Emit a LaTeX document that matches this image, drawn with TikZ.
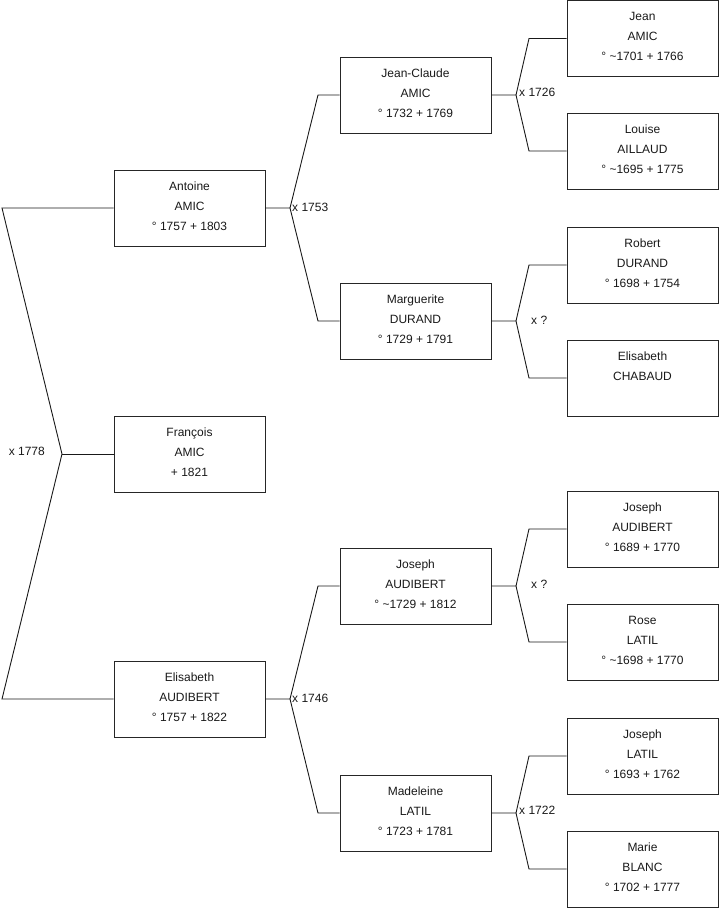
\documentclass[tikz,border=0pt]{standalone}
\usepackage{fontspec}
\setmainfont{Liberation Sans}
\newcommand\ptxt[1]{\raisebox{0pt}[\height][\dimexpr\depth+4pt\relax]{\begin{tabular}{@{}c@{}}#1\end{tabular}}}
\begin{document}
\begin{tikzpicture}[x=1pt,y=-1pt,
  person/.style={draw=black!85,line width=0.9pt,minimum width=151pt,minimum height=76pt,
    inner sep=0pt,align=center,font=\fontsize{12}{20}\selectfont,text=black!90},
  conn/.style={line width=0.9pt,black!90},
  lab/.style={font=\fontsize{12}{14}\selectfont,inner sep=0pt,text=black!90}]
\useasboundingbox (0,0) rectangle (719,908);
% column 1
\node[person] (antoine) at (189.5,208) {\ptxt{Antoine\\AMIC\\° 1757 + 1803}};
\node[person] (francois) at (189.5,454) {\ptxt{François\\AMIC\\+ 1821}};
\node[person] (elisabeth) at (189.5,699) {\ptxt{Elisabeth\\AUDIBERT\\° 1757 + 1822}};
% column 2
\node[person] (jc) at (415.5,95) {\ptxt{Jean-Claude\\AMIC\\° 1732 + 1769}};
\node[person] (marg) at (415.5,321) {\ptxt{Marguerite\\DURAND\\° 1729 + 1791}};
\node[person] (josepha) at (415.5,586) {\ptxt{Joseph\\AUDIBERT\\° \textasciitilde1729 + 1812}};
\node[person] (madeleine) at (415.5,813) {\ptxt{Madeleine\\LATIL\\° 1723 + 1781}};
% column 3
\node[person] (jean) at (642.5,38.5) {\ptxt{Jean\\AMIC\\° \textasciitilde1701 + 1766}};
\node[person] (louise) at (642.5,151) {\ptxt{Louise\\AILLAUD\\° \textasciitilde1695 + 1775}};
\node[person] (robert) at (642.5,265) {\ptxt{Robert\\DURAND\\° 1698 + 1754}};
\node[person] (elisc) at (642.5,378) {\ptxt{Elisabeth\\CHABAUD\\\mbox{}}};
\node[person] (josephaa) at (642.5,529) {\ptxt{Joseph\\AUDIBERT\\° 1689 + 1770}};
\node[person] (rose) at (642.5,642) {\ptxt{Rose\\LATIL\\° \textasciitilde1698 + 1770}};
\node[person] (josephl) at (642.5,756) {\ptxt{Joseph\\LATIL\\° 1693 + 1762}};
\node[person] (marie) at (642.5,869) {\ptxt{Marie\\BLANC\\° 1702 + 1777}};
% root fork
\coordinate (fR) at (62,454);
\coordinate (rt) at (2,208);
\coordinate (rb) at (2,699);
\draw[conn] (antoine.west) -- (rt) -- (fR) -- (rb) -- (elisabeth.west);
\draw[conn] (fR) -- (francois.west);
\node[lab,anchor=east] (l1778) at (45,451) {x 1778};
% Antoine fork
\coordinate (fA) at (290,208);
\draw[conn] (antoine.east) -- (fA) -- (318,95) -- (jc.west);
\draw[conn] (fA) -- (318,321) -- (marg.west);
\node[lab,anchor=west] (l1753) at (292,207) {x 1753};
% Elisabeth fork
\coordinate (fE) at (290,699);
\draw[conn] (elisabeth.east) -- (fE) -- (318,586) -- (josepha.west);
\draw[conn] (fE) -- (318,813) -- (madeleine.west);
\node[lab,anchor=west] (l1746) at (292,698) {x 1746};
% JC fork
\coordinate (fJC) at (516,95);
\draw[conn] (jc.east) -- (fJC) -- (529,38.5) -- (jean.west);
\draw[conn] (fJC) -- (529,151) -- (louise.west);
\node[lab,anchor=west] (l1726) at (519,92) {x 1726};
% Marguerite fork
\coordinate (fM) at (516,321);
\draw[conn] (marg.east) -- (fM) -- (529,265) -- (robert.west);
\draw[conn] (fM) -- (529,378) -- (elisc.west);
\node[lab,anchor=west] (lmq) at (531,320) {x ?};
% Joseph fork
\coordinate (fJ) at (516,586);
\draw[conn] (josepha.east) -- (fJ) -- (529,529) -- (josephaa.west);
\draw[conn] (fJ) -- (529,642) -- (rose.west);
\node[lab,anchor=west] (ljq) at (531,584) {x ?};
% Madeleine fork
\coordinate (fMa) at (516,813);
\draw[conn] (madeleine.east) -- (fMa) -- (529,756) -- (josephl.west);
\draw[conn] (fMa) -- (529,869) -- (marie.west);
\node[lab,anchor=west] (l1722) at (519,810) {x 1722};
\end{tikzpicture}
\end{document}
